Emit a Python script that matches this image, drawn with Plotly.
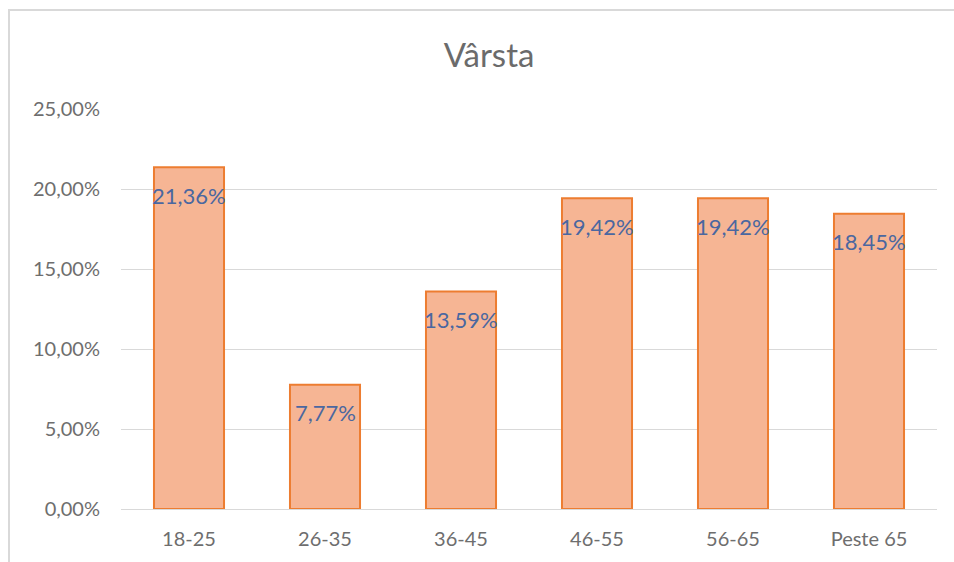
import plotly.graph_objects as go

categories = ["18-25", "26-35", "36-45", "46-55", "56-65", "Peste 65"]
values = [0.2136, 0.0777, 0.1359, 0.1942, 0.1942, 0.1845]
labels = ["21,36%", "7,77%", "13,59%", "19,42%", "19,42%", "18,45%"]
tick_vals = [0, 0.05, 0.10, 0.15, 0.20, 0.25]

W, H = 954, 562
ml, mr, mt, mb = 121, 17, 109, 53
pw = W - ml - mr
ph = H - mt - mb

def px_to_paper_x(px):
    return (px - ml) / pw

def px_to_paper_y(py):
    return (H - mb - py) / ph

FONT = "Lato, Open Sans, sans-serif"

fig = go.Figure()
fig.add_trace(go.Bar(
    x=categories,
    y=values,
    marker=dict(color="#F6B594", line=dict(color="#ED7D31", width=2)),
    width=0.515,
    hoverinfo="skip",
))

for c, v, t in zip(categories, values, labels):
    fig.add_annotation(x=c, y=v, text=t, showarrow=False, xref="x", yref="y",
                       yanchor="middle", yshift=-28,
                       font=dict(family=FONT, size=22, color="#4A67A0"))

fig.update_layout(
    width=W, height=H,
    margin=dict(l=ml, r=mr, t=mt, b=mb, autoexpand=False),
    paper_bgcolor="white",
    plot_bgcolor="white",
    separators=",.",
    showlegend=False,
    title=dict(text="Vârsta", x=489 / W, xref="container", xanchor="center",
               y=1 - 55 / H, yref="container", yanchor="middle",
               font=dict(family=FONT, size=33, color="#6B6B6B")),
    font=dict(family=FONT, size=20, color="#6E6E6E"),
    xaxis=dict(showgrid=False, showline=True, linecolor="#D9D9D9", linewidth=1,
               ticks="", tickfont=dict(size=20, color="#6E6E6E"), ticklabelstandoff=12,
               automargin=False),
    yaxis=dict(range=[0, 0.25], tickvals=tick_vals, tickformat=".2%",
               showgrid=True, gridcolor="#D9D9D9", gridwidth=1, zeroline=False,
               showline=False, ticks="", tickfont=dict(size=20, color="#6E6E6E"),
               ticklabelstandoff=20, automargin=False),
)

# outer chart frame (top and left edges visible)
fig.add_shape(type="line", xref="paper", yref="paper",
              x0=px_to_paper_x(9), x1=px_to_paper_x(W + 5),
              y0=px_to_paper_y(10), y1=px_to_paper_y(10),
              line=dict(color="#D9D9D9", width=2), layer="below")
fig.add_shape(type="line", xref="paper", yref="paper",
              x0=px_to_paper_x(9), x1=px_to_paper_x(9),
              y0=px_to_paper_y(9), y1=px_to_paper_y(H + 5),
              line=dict(color="#D9D9D9", width=2), layer="below")

fig.write_html(
    "out.html",
    config={"displayModeBar": False},
    post_script="document.body.style.margin='0';document.body.style.overflow='hidden';",
)
